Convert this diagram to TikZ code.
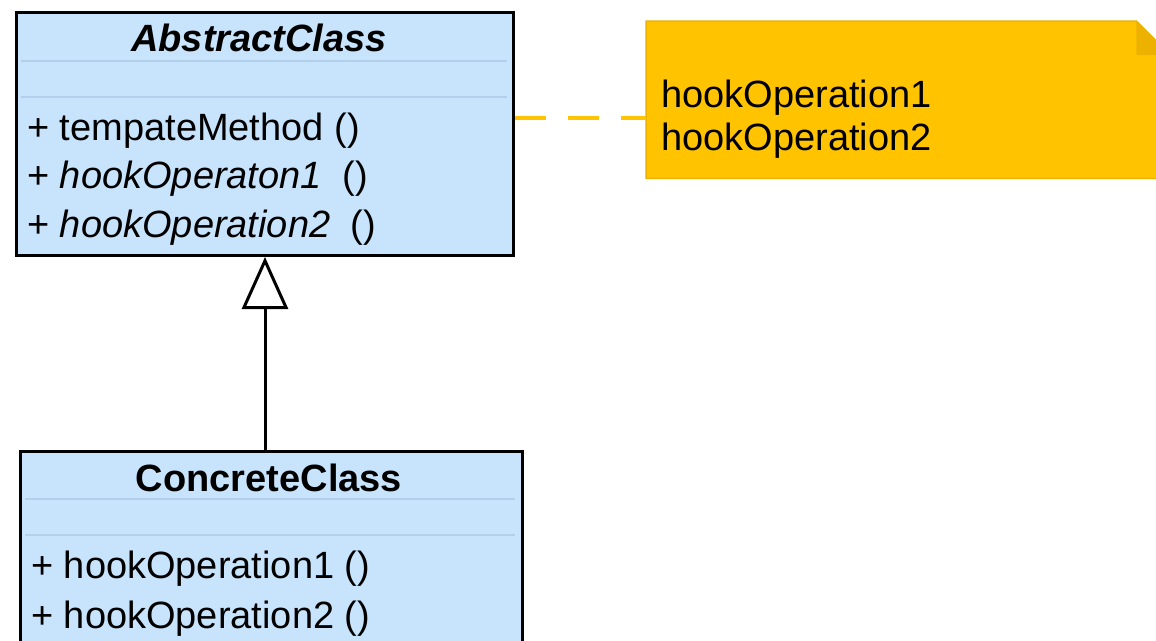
\documentclass[tikz,border=0pt]{standalone}
\usepackage{fontspec}
\setmainfont{Liberation Sans}
\usetikzlibrary{arrows.meta}
\definecolor{classfill}{HTML}{C8E4FC}
\definecolor{classsep}{HTML}{B2D0EC}
\definecolor{notefill}{HTML}{FFC300}
\definecolor{noteedge}{HTML}{EDB200}
\tikzset{
  classbox/.style={rectangle, draw=black, line width=3pt, fill=classfill,
    inner sep=0pt, anchor=north west},
  member/.style={anchor=base west, inner sep=0pt, font=\fontsize{38}{46}\selectfont},
  classtitle/.style={anchor=base, inner sep=0pt, font=\fontsize{38}{46}\selectfont\bfseries},
  sepline/.style={classsep, line width=2pt},
  noteshape/.style={rectangle, draw=none, inner sep=0pt, anchor=north west},
  notetext/.style={anchor=base west, inner sep=0pt, font=\fontsize{38}{46}\selectfont},
  notelink/.style={notefill, line width=3.5pt, dash pattern=on 31pt off 22pt},
  inherit/.style={line width=3pt, -{Triangle[open, length=52pt, width=46pt]}}
}
\begin{document}
\begin{tikzpicture}[x=1pt, y=-1pt]
\useasboundingbox (0,0) rectangle (1156,640);
\clip (0,0) rectangle (1156,640);

% abstract class
\node[classbox, minimum width=497pt, minimum height=243pt] (abs) at (15,11) {};
\draw[sepline] (21,61) -- (507,61);
\draw[sepline] (21,97) -- (507,97);
\node[classtitle] (absname) at (259,51) {\itshape AbstractClass};
\node[member] (absm1) at (27,140) {+ tempateMethod ()};
\node[member] (absm2) at (27,188) {+ \textit{hookOperaton1}\hspace{10pt} ()};
\node[member] (absm3) at (27,237) {+ \textit{hookOperation2}\hspace{10pt} ()};

% concrete class
\node[classbox, minimum width=502pt, minimum height=260pt] (conc) at (19,450) {};
\draw[sepline] (25,499) -- (515,499);
\draw[sepline] (25,535) -- (515,535);
\node[classtitle] (concname) at (269,491) {ConcreteClass};
\node[member] (concm1) at (31,578) {+ hookOperation1 ()};
\node[member] (concm2) at (31,628) {+ hookOperation2 ()};

% generalization
\draw[inherit] (conc.north -| abs.south) -- (abs.south);

% note with folded corner
\node[noteshape, minimum width=524pt, minimum height=157pt] (note) at (646,21) {};
\filldraw[fill=notefill, draw=noteedge, line width=1.5pt]
  (note.north west) -- ([xshift=-34pt]note.north east)
  -- ([yshift=-34pt]note.north east) -- (note.south east)
  -- (note.south west) -- cycle;
\fill[noteedge] ([xshift=-34pt]note.north east)
  -- ([xshift=-34pt, yshift=-34pt]note.north east)
  -- ([yshift=-34pt]note.north east) -- cycle;
\node[notetext] (notel1) at (661,107) {hookOperation1};
\node[notetext] (notel2) at (661,150) {hookOperation2};

% note link
\coordinate (linky) at (0,118);
\draw[notelink] (abs.east |- linky) -- (note.west |- linky);
\end{tikzpicture}
\end{document}
